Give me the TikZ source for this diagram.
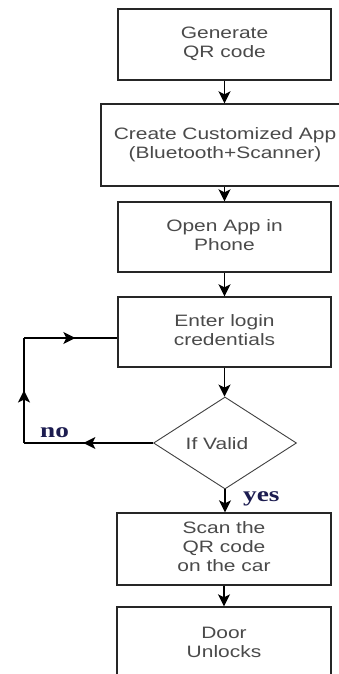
\documentclass[tikz,border=0pt]{standalone}
\usepackage{fontspec}
\setmainfont{Liberation Sans}
\newfontfamily\labelserif{Liberation Serif}
\usepackage{graphicx}
\usetikzlibrary{shapes.geometric,arrows.meta,decorations.markings}
\definecolor{txtgray}{HTML}{4A4A4A}
\definecolor{navy}{HTML}{1C1C50}
% wide, centred multi-line label text
\newcommand{\stretchtext}[1]{\scalebox{1.27}[1]{\begin{tabular}{@{}c@{}}#1\end{tabular}}}
\newcommand{\branchtext}[1]{\scalebox{1.3}[1]{\labelserif\bfseries #1}}

\begin{document}
\begin{tikzpicture}[x=1pt,y=1pt,
  box/.style={draw=black!85, line width=1.4pt, rectangle, inner sep=0pt,
    text=txtgray, font=\fontsize{16.5}{19}\selectfont},
  decision/.style={diamond, draw=black!75, line width=0.9pt, inner sep=0pt},
  plain/.style={text=txtgray, font=\fontsize{16.5}{19}\selectfont, inner sep=0pt},
  branch/.style={text=navy, font=\fontsize{21}{24}\selectfont, inner sep=0pt},
  flow/.style={line width=1.4pt, -{Stealth[length=12pt,width=12pt,inset=3pt]}},
  midarrow/.style={line width=1.4pt, postaction={decorate},
    decoration={markings, mark=at position #1 with {\arrow{Stealth[length=12pt,width=12pt,inset=3pt]}}}},
]
\useasboundingbox (0,0) rectangle (339,-674);
\clip (0,0) rectangle (339,-674);
\fill[white] (0,0) rectangle (339,-674);

% process steps
\node[box, minimum width=213, minimum height=71] (gen) at (224.5,-44.5) {\stretchtext{Generate\\QR code}};
\node[box, minimum width=248, minimum height=82] (app) at (225,-145) {\stretchtext{Create Customized App\\(Bluetooth+Scanner)}};
\node[box, minimum width=213, minimum height=70] (open) at (224.5,-237) {\stretchtext{Open App in\\Phone}};
\node[box, minimum width=213, minimum height=70] (login) at (224.5,-332) {\stretchtext{Enter login\\credentials}};
\node[decision, minimum width=143, minimum height=92] (valid) at (225,-443) {};
\node[plain] (validtext) at (217,-444) {\scalebox{1.27}[1]{If Valid}};
\node[box, minimum width=214, minimum height=72] (scan) at (224,-549) {\stretchtext{Scan the\\QR code\\on the car}};
\node[box, minimum width=214, minimum height=74] (door) at (224,-644) {\stretchtext{Door\\Unlocks}};

% main flow
\draw[flow] (gen.south) -- (gen.south |- app.north);
\draw[flow] (app.south -| gen.south) -- (open.north);
\draw[flow] (open.south) -- (login.north);
\draw[flow] (login.south) -- (login.south |- valid.north);
\draw[flow] (valid.south) -- (valid.south |- scan.north);
\draw[flow] (scan.south) -- (door.north);

% retry loop
\coordinate (cl) at (24,-443);
\coordinate (cu) at (24,-338);
\draw[midarrow=0.54] (valid.west) -- (cl);
\draw[midarrow=0.5] (cl) -- (cu);
\draw[midarrow=0.55] (cu) -- (cu -| login.west);

% branch labels
\node[branch, anchor=base west] (nolbl) at (40,-437) {\branchtext{no}};
\node[branch, anchor=base west] (yeslbl) at (243,-501) {\branchtext{yes}};
\end{tikzpicture}
\end{document}
